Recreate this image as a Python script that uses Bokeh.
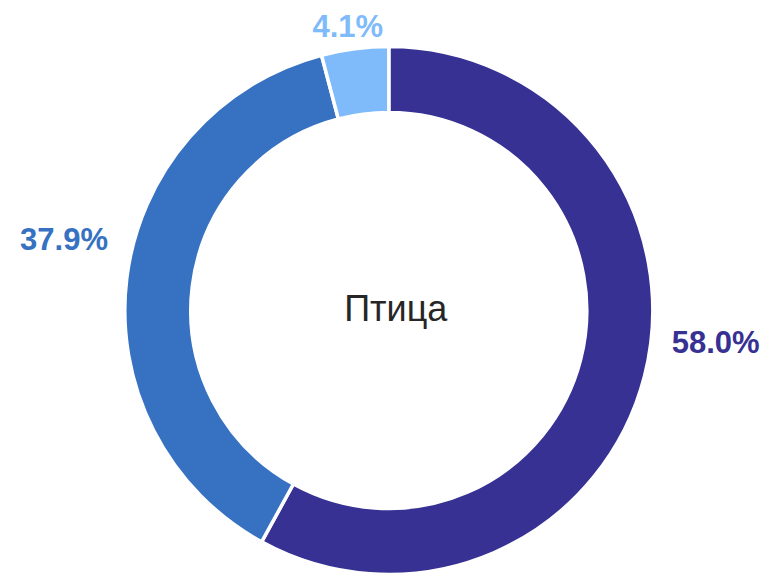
import math
from bokeh.plotting import figure
from bokeh.models import ColumnDataSource, Range1d
from bokeh.core.properties import value
from bokeh.embed import file_html
from bokeh.resources import INLINE

# data
categories = ["A", "B", "C"]
shares = [58.0, 37.9, 4.1]
colors = ["#363193", "#3671C2", "#7FBBFA"]
center_label = "Птица"

W, H = 767, 573
p = figure(width=W, height=H, output_backend="svg", toolbar_location=None,
           x_range=Range1d(0, W), y_range=Range1d(-H, 0),
           min_border=0, outline_line_color=None)
p.axis.visible = False
p.grid.visible = False
p.background_fill_color = "white"
p.border_fill_color = "white"

cx, cy = 388.3, -310.0
r_out, r_in = 264.0, 198.0

total = sum(shares)
starts, ends, mids = [], [], []
acc = 0.0
for s in shares:
    a0 = math.pi / 2 - 2 * math.pi * acc / total
    acc += s
    a1 = math.pi / 2 - 2 * math.pi * acc / total
    starts.append(a0)
    ends.append(a1)
    mids.append((a0 + a1) / 2)

src = ColumnDataSource(dict(x=[cx] * len(shares), y=[cy] * len(shares),
                            start=starts, end=ends, color=colors))
p.annular_wedge(x="x", y="y", inner_radius=r_in, outer_radius=r_out,
                start_angle="start", end_angle="end", direction="clock",
                fill_color="color", line_color="white", line_width=3.5,
                source=src)

# labels
r_lab = 288.0
label_dx = [4, 5, -4]
label_dy = [40, 36, -2]
lx, ly, align, texts = [], [], [], []
for s, m, dx, dy in zip(shares, mids, label_dx, label_dy):
    c, sn = math.cos(m), math.sin(m)
    lx.append(cx + r_lab * c + dx)
    ly.append(cy + r_lab * sn + dy)
    if abs(c) < 0.3:
        align.append("center")
    elif c > 0:
        align.append("left")
    else:
        align.append("right")
    texts.append(f"{s:.1f}%")

lsrc = ColumnDataSource(dict(x=lx, y=ly, text=texts, align=align, color=colors))
p.text(x="x", y="y", text="text", text_align="align", text_baseline="middle",
       text_color="color", text_font=value("Liberation Sans"),
       text_font_style="bold", text_font_size="31px", source=lsrc)

p.text(x=[cx], y=[cy], text=[center_label], text_align="center",
       text_baseline="middle", x_offset=7, y_offset=-2,
       text_color="#262626", text_font=value("Liberation Sans"),
       text_font_size="36px")

open("out.html", "w").write(file_html(p, INLINE))
